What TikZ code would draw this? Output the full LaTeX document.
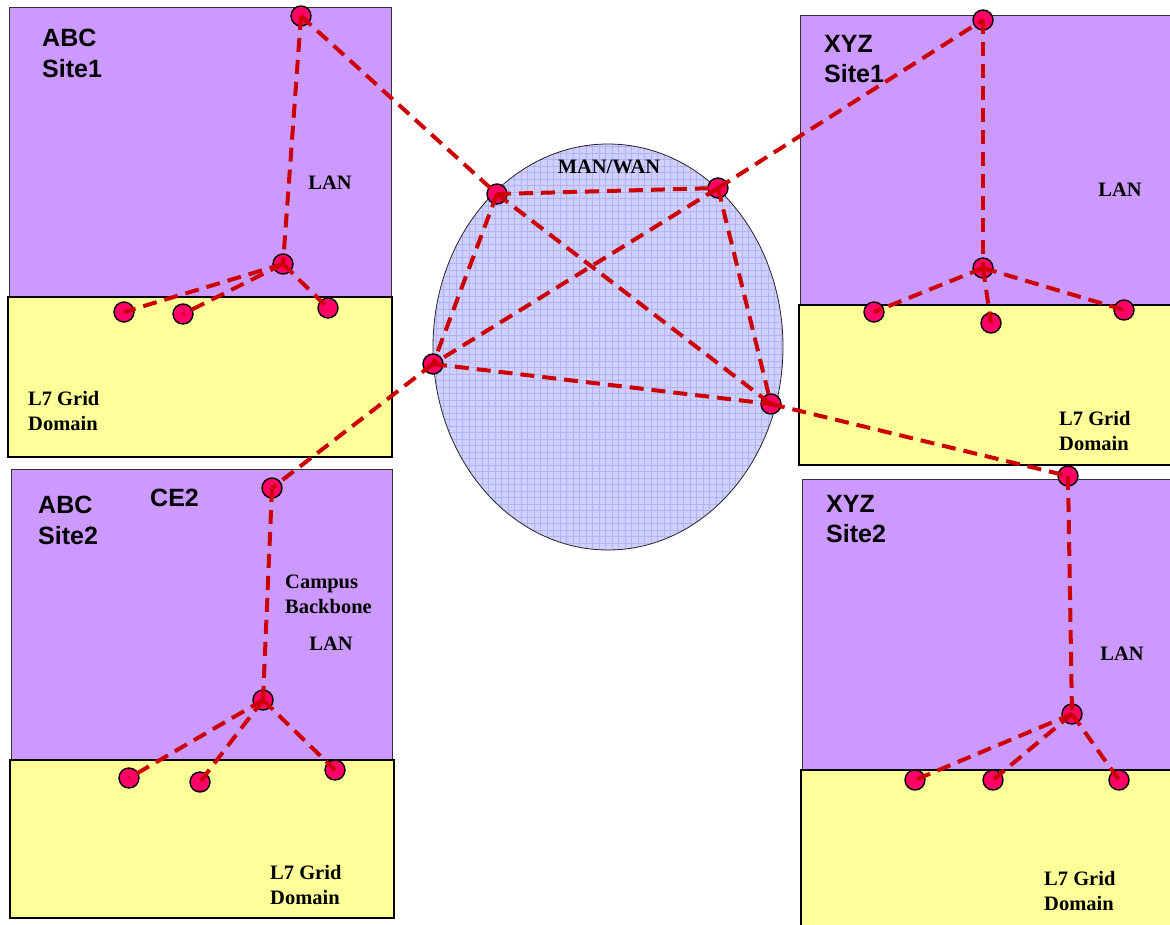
\documentclass[tikz,border=0pt]{standalone}
\usepackage{fontspec}
\usetikzlibrary{shapes.geometric}
\setmainfont{Liberation Serif}
\newfontfamily\arialf{Liberation Sans}
\definecolor{sitepurple}{HTML}{CC99FF}
\definecolor{gridyellow}{HTML}{FFFF99}
\definecolor{wanfill}{HTML}{D0D0FF}
\definecolor{wangrid}{HTML}{B2B2F6}
\definecolor{dotfill}{HTML}{FF0066}
\definecolor{linkred}{HTML}{CC0000}
\tikzset{
  lanbox/.style={fill=sitepurple, draw=black!80, line width=1pt},
  domainbox/.style={fill=gridyellow, draw=black, line width=2.2pt},
  dot/.style={circle, fill=dotfill, draw=black, line width=1.4pt, minimum size=20pt, inner sep=0pt},
  link/.style={draw=linkred, line width=4pt, dash pattern=on 14pt off 8pt},
  sitelbl/.style={font=\arialf\bfseries\fontsize{25}{30.5}\selectfont, align=left, anchor=north west, inner sep=0pt},
  lbl/.style={font=\bfseries\fontsize{20.5}{25}\selectfont, align=left, inner sep=0pt},
}
\begin{document}
\begin{tikzpicture}[x=1pt,y=-1pt]
\useasboundingbox (0,0) rectangle (1170,924);
\fill[white] (0,0) rectangle (1170,924);

% ---- site boxes ----
\draw[lanbox] (9,7) rectangle (391,297);
\draw[domainbox] (8,297) rectangle (392,457);
\draw[lanbox] (11,469) rectangle (392,760);
\draw[domainbox] (10,760) rectangle (394,918);
\draw[lanbox] (800,15) rectangle (1185,305);
\draw[domainbox] (799,305) rectangle (1185,465);
\draw[lanbox] (802,479) rectangle (1185,770);
\draw[domainbox] (801,770) rectangle (1185,935);

% ---- MAN/WAN cloud ----
\begin{scope}
  \clip (608,347) ellipse [x radius=175, y radius=203];
  \fill[wanfill] (430,140) rectangle (790,555);
  \foreach \gx in {0,...,56} {\draw[wangrid, line width=0.5pt] (430+\gx*6.5,140) -- (430+\gx*6.5,555);}
  \foreach \gy in {0,...,64} {\draw[wangrid, line width=0.5pt] (430,140+\gy*6.5) -- (790,140+\gy*6.5);}
\end{scope}
\node[draw=black!85, line width=0.8pt, ellipse, minimum width=350pt, minimum height=406pt, inner sep=0pt] (wan) at (608,347) {};

% ---- labels ----
\node[sitelbl] (lblA1) at (42,29) {ABC\\Site1};
\node[sitelbl] (lblX1) at (824,35) {XYZ\\Site1};
\node[sitelbl] (lblA2) at (38,496) {ABC\\Site2};
\node[sitelbl] (lblX2) at (826,495) {XYZ\\Site2};
\node[sitelbl] (lblCE) at (150,489) {CE2};
\node[lbl] (lanA1) at (330,183) {LAN};
\node[lbl] (lanX1) at (1120,190) {LAN};
\node[lbl] (lanA2) at (331,644) {LAN};
\node[lbl] (lanX2) at (1122,654) {LAN};
\node[lbl] (man) at (609,167) {MAN/WAN};
\node[lbl, anchor=west] (campus) at (285,594) {Campus\\Backbone};
\node[lbl, anchor=west] (domA1) at (28,411) {L7 Grid\\Domain};
\node[lbl, anchor=west] (domX1) at (1059,431) {L7 Grid\\Domain};
\node[lbl, anchor=west] (domA2) at (270,885) {L7 Grid\\Domain};
\node[lbl, anchor=west] (domX2) at (1044,891) {L7 Grid\\Domain};

% ---- dots ----
% ABC Site1
\node[dot] (a1t) at (301,16) {};
\node[dot] (a1h) at (283,264) {};
\node[dot] (a1l1) at (124,312) {};
\node[dot] (a1l2) at (183,314) {};
\node[dot] (a1l3) at (328,308) {};
% MAN/WAN
\node[dot] (w1) at (497,194) {};
\node[dot] (w2) at (718,188) {};
\node[dot] (w3) at (433,364) {};
\node[dot] (w4) at (771,404) {};
% XYZ Site1
\node[dot] (x1t) at (983,20) {};
\node[dot] (x1h) at (983,268) {};
\node[dot] (x1l1) at (874,312) {};
\node[dot] (x1l2) at (991,323) {};
\node[dot] (x1l3) at (1124,310) {};
% ABC Site2
\node[dot] (a2t) at (272,488) {};
\node[dot] (a2h) at (263,700) {};
\node[dot] (a2l1) at (129,778) {};
\node[dot] (a2l2) at (200,782) {};
\node[dot] (a2l3) at (335,770) {};
% XYZ Site2
\node[dot] (x2t) at (1068,476) {};
\node[dot] (x2h) at (1072,714) {};
\node[dot] (x2l1) at (915,780) {};
\node[dot] (x2l2) at (993,780) {};
\node[dot] (x2l3) at (1119,780) {};

% ---- links ----
\draw[link] (a1t.center) -- (a1h.center);
\draw[link] (a1h.center) -- (a1l1.center);
\draw[link] (a1h.center) -- (a1l2.center);
\draw[link] (a1h.center) -- (a1l3.center);
\draw[link] (a1t.center) -- (w1.center);

\draw[link] (w1.center) -- (w2.center);
\draw[link] (w1.center) -- (w3.center);
\draw[link] (w1.center) -- (w4.center);
\draw[link] (w2.center) -- (w3.center);
\draw[link] (w2.center) -- (w4.center);
\draw[link] (w3.center) -- (w4.center);

\draw[link] (w2.center) -- (x1t.center);
\draw[link] (w3.center) -- (a2t.center);
\draw[link] (w4.center) -- (x2t.center);

\draw[link] (x1t.center) -- (x1h.center);
\draw[link] (x1h.center) -- (x1l1.center);
\draw[link] (x1h.center) -- (x1l2.center);
\draw[link] (x1h.center) -- (x1l3.center);

\draw[link] (a2t.center) -- (a2h.center);
\draw[link] (a2h.center) -- (a2l1.center);
\draw[link] (a2h.center) -- (a2l2.center);
\draw[link] (a2h.center) -- (a2l3.center);

\draw[link] (x2t.center) -- (x2h.center);
\draw[link] (x2h.center) -- (x2l1.center);
\draw[link] (x2h.center) -- (x2l2.center);
\draw[link] (x2h.center) -- (x2l3.center);
\end{tikzpicture}
\end{document}
